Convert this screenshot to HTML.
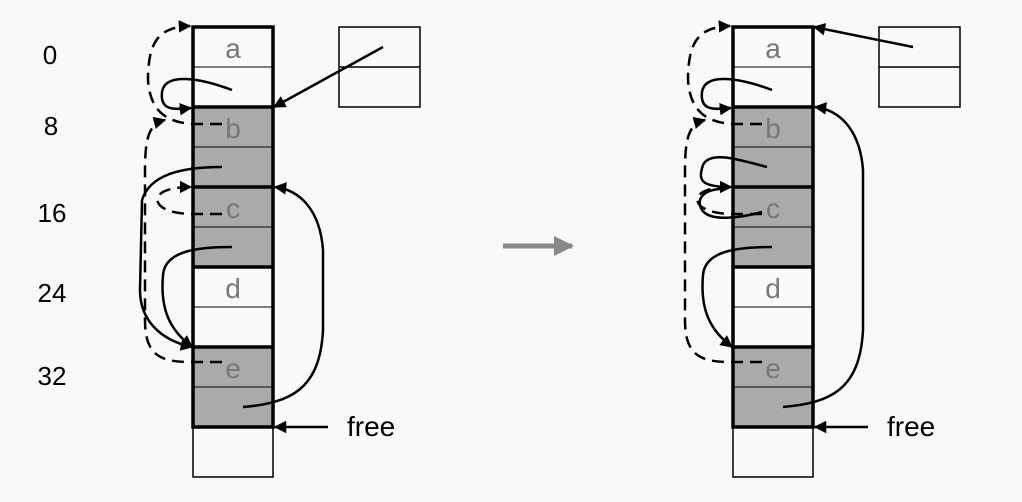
<!DOCTYPE html>
<html><head><meta charset="utf-8"><style>
body{margin:0;background:#f9f9f9;}
svg{display:block;font-family:"Liberation Sans",sans-serif;}
</style></head><body>
<svg width="1022" height="502" viewBox="0 0 1022 502">
<defs><marker id="ah" viewBox="0 0 10 10" refX="9" refY="5" markerWidth="5" markerHeight="5" orient="auto"><path d="M0,0 L10,5 L0,10 z" fill="#000"/></marker>
<marker id="gh" viewBox="0 0 10 10" refX="9" refY="5" markerWidth="4" markerHeight="4" orient="auto"><path d="M0,0 L10,5 L0,10 z" fill="#888"/></marker></defs>
<rect width="1022" height="502" fill="#f9f9f9"/>
<g font-size="26" text-anchor="middle" fill="#000">
<text x="50" y="64">0</text><text x="51" y="135">8</text><text x="52" y="222">16</text><text x="52" y="302">24</text><text x="52" y="385">32</text></g>
<g id="L"></g>
<g id="R"></g>
<line x1="503" y1="246" x2="572" y2="246" stroke="#888" stroke-width="5" marker-end="url(#gh)"/>
</svg>
<script>
const NS="http://www.w3.org/2000/svg";
function mk(p,tag,at){const e=document.createElementNS(NS,tag);for(const k in at)e.setAttribute(k,at[k]);p.appendChild(e);return e;}
function heap(g,dx,right){
 const X=193+dx,W=80;
 const fills=['#fafafa','#aaa','#aaa','#fafafa','#aaa'];
 const names=['a','b','c','d','e'];
 for(let i=0;i<5;i++){const y=27+i*80;
  const r=mk(g,'rect',{x:X,y:y,width:W,height:80,fill:fills[i],stroke:'none'});
  
  
  mk(g,'line',{x1:X,y1:y+40,x2:X+W,y2:y+40,stroke:'#000','stroke-width':1});
  const t=mk(g,'text',{x:X+40,y:y+31,'text-anchor':'middle','font-size':28,fill:'#777'});t.textContent=names[i];
  
  
 }
 mk(g,'rect',{x:X,y:427,width:W,height:50,fill:'#fafafa',stroke:'#000','stroke-width':1.5});
 mk(g,'rect',{x:X,y:27,width:W,height:400,fill:'none',stroke:'#000','stroke-width':3.5});
 for(let i=1;i<5;i++)mk(g,'line',{x1:X,y1:27+i*80,x2:X+W,y2:27+i*80,stroke:'#000','stroke-width':3.5});
 const b=mk(g,'rect',{x:339+dx,y:27,width:81,height:80,fill:'#fafafa',stroke:'#000','stroke-width':1.5});
 
 
 mk(g,'line',{x1:339+dx,y1:67,x2:420+dx,y2:67,stroke:'#000','stroke-width':1.5});
 const P=(d,dash)=>mk(g,'path',{d:d,fill:'none',stroke:'#000','stroke-width':2.5,'marker-end':'url(#ah)','stroke-dasharray':dash?'12,7':'none',transform:'translate('+dx+',0)'});
 const F=(d,dash)=>mk(g,'path',{d:d,fill:'none',stroke:'#000','stroke-width':2.5,'stroke-dasharray':dash?'12,7':'none',transform:'translate('+dx+',0)'});
 if(!right)P('M383,47 L274,107');else P('M373,47 L274,27');
 P('M232,90 C200,78 165,72 162,92 C160,110 172,110 191,108');
 P('M222,124 L192,124 C165,122 150,110 148,80 C148,40 160,27 190,26',true);
 P('M222,362 L190,362 C160,362 145,355 145,320 L145,170 C145,135 150,124 165,120',true);
 P('M232,247 C200,247 165,250 163,275 C160,310 170,330 192,347');
 P('M328,427 L275,427');
 if(!right){
  P('M222,214 L190,214 C165,213 155,205 158,197 C161,190 175,187 191,187',true);
  P('M222,167 C180,167 150,175 142,200 L140,290 C140,320 160,340 192,347');
  P('M243,407 C290,403 320,390 323,330 L323,250 C320,210 300,190 275,187');
 } else {
  P('M222,214 L190,214 C165,213 155,205 158,197 C161,190 175,187 191,187',true);
  P('M227,167 C200,160 170,150 163,165 C158,180 160,187 191,187');
  F('M222,212 C200,218 170,222 162,210 C155,198 165,190 180,189');
  P('M243,407 C290,403 320,390 323,330 L323,170 C320,130 300,110 275,107');
 }
 const f=mk(g,'text',{x:347+dx,y:436,'font-size':28,fill:'#000'});f.textContent='free';
 
 
}
heap(document.getElementById('L'),0,false);
heap(document.getElementById('R'),540,true);
</script>
</body></html>
